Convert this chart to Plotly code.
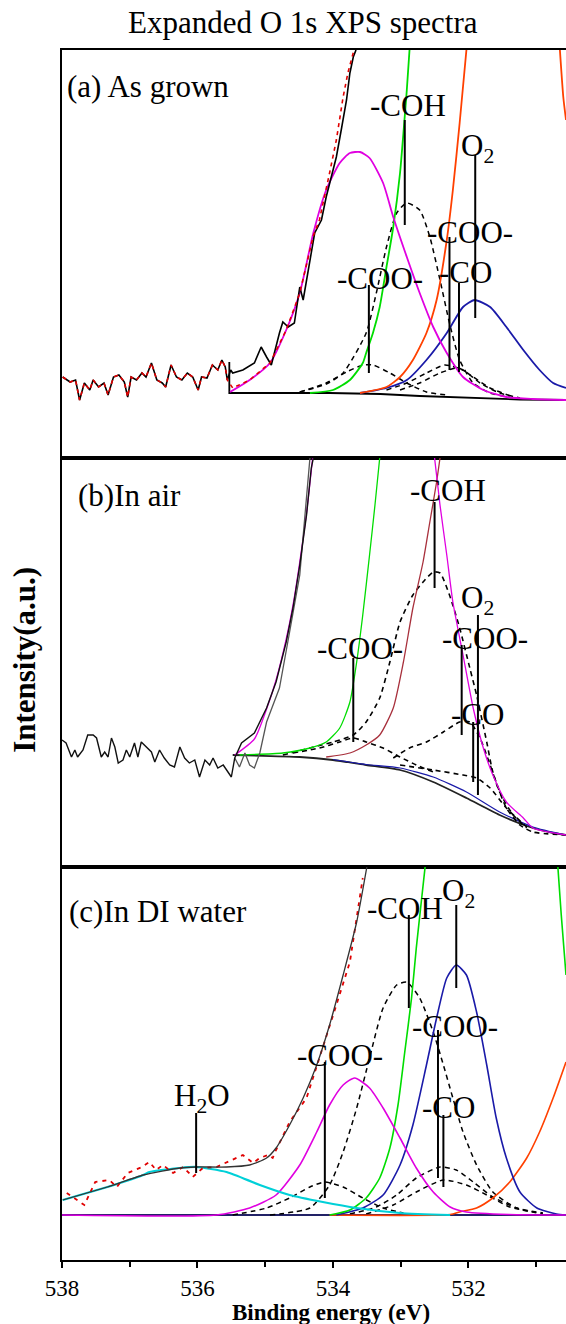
import plotly.graph_objects as go
from plotly.subplots import make_subplots

FONT = "Liberation Serif, Times New Roman, serif"

# ---------------- Panel (a) As grown ----------------
a_raw_ev = [537.99, 537.88, 537.80, 537.74, 537.67, 537.59, 537.54, 537.46, 537.38, 537.32,
            537.24, 537.16, 537.08, 537.03, 536.98, 536.90, 536.82, 536.76, 536.68, 536.60,
            536.52, 536.47, 536.39, 536.31, 536.23, 536.15, 536.07, 535.99, 535.94, 535.86,
            535.78, 535.70, 535.64, 535.59, 535.56, 535.51, 535.48, 535.33, 535.16, 535.06,
            534.98, 534.91, 534.79, 534.74, 534.66, 534.57, 534.49, 534.44, 534.27, 534.17,
            534.10, 533.95, 533.87, 533.80, 533.75, 533.70, 533.66]
a_raw_int = [81, 76, 78, 58, 75, 68, 78, 71, 75, 63,
             81, 83, 76, 61, 81, 78, 85, 81, 95, 78,
             75, 71, 93, 81, 78, 85, 81, 68, 81, 80,
             93, 88, 98, 91, 78, 88, 85, 88, 95, 111,
             101, 93, 125, 136, 131, 135, 171, 158, 225, 238,
             261, 301, 331, 358, 385, 401, 408]
a_fit_ev = [535.48, 535.23, 534.93, 534.69, 534.49, 534.29, 534.20, 534.05, 533.95, 533.85, 533.78, 533.69]
a_fit_int = [70, 78, 95, 128, 165, 222, 238, 285, 318, 361, 385, 408]
a_bg_ev = [535.53, 535.53, 534.05, 533.30, 532.72, 531.98, 531.24, 530.56]
a_bg_int = [96, 65, 65, 64, 62, 60, 58.5, 58]
a_mag_ev = [535.52, 535.23, 534.93, 534.69, 534.49, 534.29, 534.10, 533.90, 533.75, 533.60, 533.46,
            533.26, 533.11, 532.91, 532.72, 532.52, 532.32, 532.08, 531.78, 531.44, 531.05, 530.56]
a_mag_int = [66, 78, 95, 128, 165, 225, 268, 295, 305, 306, 300,
             275, 241, 201, 165, 131, 105, 81, 68, 61, 59, 58]
a_grn_ev = [534.34, 534.00, 533.75, 533.56, 533.51, 533.41, 533.31, 533.21, 533.11, 533.01, 532.96, 532.91, 532.87]
a_grn_int = [65, 68, 78, 95, 105, 125, 151, 191, 231, 285, 325, 368, 408]
a_org_ev = [533.60, 533.21, 533.01, 532.82, 532.62, 532.47, 532.32, 532.23, 532.13, 532.03, None, 530.65, 530.60, 530.56]
a_org_int = [65, 71, 81, 98, 125, 158, 218, 268, 335, 408, None, 408, 361, 338]
a_blu_ev = [533.60, 533.21, 532.91, 532.62, 532.32, 532.08, 531.91, 531.68, 531.44, 531.19, 530.95, 530.75, 530.56]
a_blu_int = [65, 70, 78, 98, 125, 151, 158, 151, 131, 108, 88, 75, 70]
a_coh_ev = [534.49, 534.10, 533.85, 533.51, 533.36, 533.21, 533.06, 532.91, 532.72, 532.57, 532.42,
            532.28, 532.13, 531.93, 531.68, 531.34]
a_coh_int = [66, 74, 85, 125, 165, 211, 245, 255, 248, 221, 178, 135, 98, 75, 65, 60]
a_coo1_ev = [534.49, 534.10, 533.80, 533.56, 533.41, 533.16, 532.91, 532.62, 532.32]
a_coo1_int = [66, 75, 86, 93, 93, 85, 75, 66, 63]
a_coo2_ev = [533.21, 532.91, 532.62, 532.35, 532.08, 531.83, 531.54, 531.24]
a_coo2_int = [68, 75, 85, 93, 88, 75, 65, 60]
a_co_ev = [533.01, 532.72, 532.42, 532.15, 531.93, 531.68, 531.34]
a_co_int = [68, 75, 85, 90, 81, 70, 61]
a_lab_text = ["-COH", "O<sub>2</sub>", "-COO-", "-CO", "-COO-"]
a_lab_ev = [532.89, 531.86, 531.97, 532.04, 533.31]
a_lab_int = [353, 310, 226, 186, 180]
a_line_ev = [532.94, 531.90, 532.28, 532.14, 533.47]
a_line_top = [338, 303, 221, 175, 173]
a_line_bot = [233, 140, 88, 86, 85]

# ---------------- Panel (b) In air ----------------
b_raw_ev = [538.00, 537.94, 537.86, 537.81, 537.77, 537.69, 537.62, 537.54, 537.49, 537.42,
            537.37, 537.32, 537.27, 537.22, 537.17, 537.10, 537.05, 537.00, 536.93, 536.88,
            536.83, 536.76, 536.68, 536.63, 536.56, 536.49, 536.41, 536.34, 536.26, 536.19,
            536.12, 536.04, 535.97, 535.89, 535.82, 535.77, 535.70, 535.62, 535.55, 535.50,
            535.45, 535.35, 535.16, 534.98, 534.84, 534.69, 534.59, 534.49, 534.39, 534.32, 534.29]
b_raw_int = [127, 124, 110, 117, 110, 117, 132, 132, 129, 110,
             115, 110, 129, 120, 104, 107, 117, 110, 124, 110,
             125, 120, 115, 105, 117, 109, 102, 100, 120, 109,
             104, 107, 90, 107, 102, 109, 99, 102, 95, 90,
             109, 124, 134, 159, 185, 225, 259, 302, 352, 399, 409]
b_gry_ev = [535.45, 535.38, 535.30, 535.23, 535.16, 535.08, 534.98, 534.79, 534.64, 534.49, 534.34]
b_gry_int = [109, 100, 114, 102, 99, 114, 145, 179, 235, 292, 409]
b_mag_ev = [535.45, 535.16, 534.98, 534.84, 534.69, 534.59, 534.49, 534.39, 534.30, None,
            532.50, 532.42, 532.32, 532.23, 532.08, 531.93, 531.78, 531.64, 531.44, 531.19, 531.05, 530.56]
b_mag_int = [112, 128, 158, 187, 228, 262, 305, 354, 409, None,
             409, 362, 312, 265, 212, 159, 119, 92, 65, 49, 39, 32]
b_bg_ev = [535.48, 534.49, 534.00, 533.51, 533.01, 532.52, 532.03, 531.54, 531.05, 530.75, 530.56]
b_bg_int = [112, 110, 107, 102, 97, 85, 69, 52, 39, 34, 32]
b_blu_ev = [534.00, 533.51, 533.01, 532.52, 532.03, 531.54, 531.05, 530.56]
b_blu_int = [107.5, 102.5, 99, 90, 75, 55, 40, 32]
b_grn_ev = [535.38, 534.74, 534.34, 534.10, 533.90, 533.75, 533.65, 533.56, 533.46, 533.38, 533.31]
b_grn_int = [112, 114, 119, 125, 139, 165, 205, 252, 312, 362, 409]
b_red_ev = [534.10, 533.75, 533.51, 533.31, 533.11, 532.96, 532.82, 532.67, 532.57, 532.47, 532.42]
b_red_int = [110, 114, 122, 132, 159, 205, 259, 305, 345, 385, 409]
b_coh_ev = [534.74, 534.34, 534.00, 533.70, 533.51, 533.31, 533.16, 533.01, 532.82, 532.67, 532.52,
            532.42, 532.28, 532.13, 531.98, 531.88, 531.73, 531.64, 531.44, 531.24, 531.05, 530.56]
b_coh_int = [112, 119, 125, 132, 145, 169, 205, 245, 272, 285, 295,
             294, 272, 239, 199, 172, 125, 95, 59, 42, 35, 32]
b_coo1_ev = [534.59, 534.20, 533.90, 533.70, 533.51, 533.26, 533.01, 532.77, 532.52]
b_coo1_int = [114, 119, 125, 129, 125, 119, 110, 102, 95]
b_co_ev = [533.11, 532.87, 532.62, 532.37, 532.13, 531.98, 531.83, 531.68, 531.54, 531.34, 531.14]
b_co_int = [109, 119, 125, 135, 145, 145, 129, 102, 75, 52, 39]
b_coo2_ev = [533.01, 532.52, 532.08, 531.88, 531.68, 531.44, 531.14]
b_coo2_int = [102, 97, 92, 89, 79, 59, 40]
b_lab_text = ["-COH", "O<sub>2</sub>", "-COO-", "-CO", "-COO-"]
b_lab_ev = [532.30, 531.87, 531.76, 531.86, 533.60]
b_lab_int = [377, 267, 229, 153, 219]
b_line_ev = [532.50, 531.86, 532.10, 531.93, 533.70]
b_line_top = [365, 252, 222, 145, 209]
b_line_bot = [279, 72, 132, 85, 125]

# ---------------- Panel (c) In DI water ----------------
c_cyan_ev = [537.99, 537.33, 536.80, 536.71, 536.26, 536.02, 535.57, 535.08, 534.64, 534.15, 533.65, 533.01, 532.27]
c_cyan_int = [60, 73, 85, 88, 92, 93, 88, 75, 65, 58, 52, 47, 45]
c_env_ev = [537.99, 537.33, 536.80, 536.26, 536.02, 535.57, 535.23, 534.98, 534.84, 534.64, 534.44,
            534.24, 534.05, 533.85, 533.65, 533.50]
c_env_int = [60, 73, 85, 92, 93, 93, 95, 102, 112, 135, 162, 195, 235, 285, 338, 393]
c_dat_ev = [537.93, 537.78, 537.67, 537.51, 537.30, 537.19, 537.03, 536.82, 536.71, 536.61,
            536.51, 536.36, 536.21, 536.07, 535.92, 535.72, 535.48, 535.33, 535.18, 535.08,
            534.96, 534.89, 534.84, 534.64, 534.39, 534.10, 533.95, 533.75, 533.60, 533.56]
c_dat_int = [67, 60, 55, 78, 80, 73, 87, 93, 98, 90,
             95, 87, 93, 83, 92, 93, 100, 105, 97, 102,
             105, 102, 110, 138, 162, 222, 255, 298, 368, 382]
c_mag_ev = [538.00, 535.72, 535.23, 534.84, 534.49, 534.24, 534.05, 533.85, 533.68, 533.46, 533.26,
            533.01, 532.77, 532.52, 532.27, 532.03, 531.40, 530.56]
c_mag_int = [45, 45, 52, 65, 95, 128, 155, 175, 182, 172, 152, 122, 92, 68, 53, 48, 45.5, 45]
c_grn_ev = [534.05, 533.75, 533.51, 533.31, 533.16, 533.04, 532.94, 532.84, 532.77, 532.69, 532.64,
            None, 530.68, 530.63, 530.56]
c_grn_int = [45, 50, 62, 82, 112, 155, 208, 262, 312, 362, 393, None, 393, 345, 285]
c_blu_ev = [533.95, 533.56, 533.26, 533.01, 532.82, 532.62, 532.47, 532.32, 532.18, 532.03, 531.88,
            531.73, 531.59, 531.44, 531.24, 530.99, 530.70, 530.56]
c_blu_int = [45, 52, 65, 95, 135, 195, 242, 282, 295, 285, 248, 195, 142, 102, 68, 52, 46, 45]
c_org_ev = [534.05, 532.27, 532.13, 531.88, 531.64, 531.39, 531.14, 530.95, 530.75, 530.56]
c_org_int = [45, 45.5, 48, 52, 62, 78, 102, 128, 162, 198]
c_bg_ev = [538.00, 530.56]
c_bg_int = [45, 45]
c_coh_ev = [534.93, 534.34, 534.05, 533.85, 533.65, 533.46, 533.26, 533.06, 532.91, 532.72, 532.52,
            532.37, 532.23, 532.08, 531.88, 531.64, 531.29, 530.90]
c_coh_int = [45, 52, 75, 108, 152, 202, 252, 275, 278, 262, 228, 195, 162, 128, 95, 68, 52, 46]
c_coo1_ev = [535.48, 534.98, 534.64, 534.34, 534.12, 533.85, 533.56, 533.26, 532.96]
c_coo1_int = [45, 52, 62, 73, 78, 73, 62, 52, 47]
c_coo2_ev = [533.75, 533.36, 533.06, 532.77, 532.42, 532.18, 531.93, 531.64, 531.29, 530.90]
c_coo2_int = [46, 53, 65, 82, 93, 90, 78, 63, 52, 47]
c_co_ev = [533.51, 533.11, 532.77, 532.37, 532.03, 531.73, 531.39, 531.05]
c_co_int = [46, 55, 68, 80, 75, 65, 53, 48]
c_lab_text = ["H<sub>2</sub>O", "-COO-", "-COH", "O<sub>2</sub>", "-COO-", "-CO"]
c_lab_ev = [535.94, 533.90, 532.93, 532.14, 532.20, 532.29]
c_lab_int = [162, 205, 352, 367, 234, 153]
c_line_ev = [536.02, 534.12, 532.88, 532.18, 532.45, 532.37]
c_line_top = [147, 198, 345, 355, 230, 145]
c_line_bot = [87, 62, 252, 272, 82, 73]

panel_text = ["(a) As grown", "(b)In air", "(c)In DI water"]
panel_ev = [537.96, 537.80, 537.93]
panel_int = [372, 372, 349]
y_top = [408, 409, 393]

x_major = [538, 536, 534, 532]
x_minor = [537, 535, 533, 531]

# ---------------- figure ----------------
fig = make_subplots(rows=3, cols=1, shared_xaxes=True, vertical_spacing=0,
                    row_heights=[408, 409, 393])

MAG = "#e000e0"
GRN = "#00dd00"
ORG = "#ff4000"
BLU = "#1a1aa8"
CYA = "#00d0d8"
DRED = "#a8303c"
RED = "#e00000"
DASH = "5px,4px"


def line(x, y, color, width=1.6, dash=None, row=1, shape="spline"):
    fig.add_trace(go.Scatter(x=x, y=y, mode="lines", showlegend=False, hoverinfo="skip",
                             connectgaps=False,
                             line=dict(color=color, width=width, dash=dash, shape=shape,
                                       smoothing=0.6)),
                  row=row, col=1)


def markers(ev, top, bot, row):
    xs, ys = [], []
    for e, t, b in zip(ev, top, bot):
        xs += [e, e, None]
        ys += [t, b, None]
    fig.add_trace(go.Scatter(x=xs, y=ys, mode="lines", showlegend=False, hoverinfo="skip",
                             line=dict(color="black", width=2)), row=row, col=1)


# panel a
line(a_bg_ev, a_bg_int, "black", 1.8, row=1, shape="linear")
for ex, iy in [(a_coh_ev, a_coh_int), (a_coo1_ev, a_coo1_int), (a_coo2_ev, a_coo2_int), (a_co_ev, a_co_int)]:
    line(ex, iy, "black", 1.5, DASH, row=1)
line(a_blu_ev, a_blu_int, BLU, 1.8, row=1)
line(a_org_ev, a_org_int, ORG, 1.8, row=1)
line(a_grn_ev, a_grn_int, GRN, 1.8, row=1)
line(a_mag_ev, a_mag_int, MAG, 1.8, row=1)
line(a_raw_ev, a_raw_int, "black", 1.6, row=1, shape="linear")
line(a_raw_ev[:35] + a_fit_ev, a_raw_int[:35] + a_fit_int, RED, 1.6, "4px,4px", row=1, shape="linear")
markers(a_line_ev, a_line_top, a_line_bot, 1)

# panel b
line(b_bg_ev, b_bg_int, "#222222", 1.8, row=2)
line(b_blu_ev, b_blu_int, BLU, 1.2, row=2)
for ex, iy in [(b_coh_ev, b_coh_int), (b_coo1_ev, b_coo1_int), (b_co_ev, b_co_int), (b_coo2_ev, b_coo2_int)]:
    line(ex, iy, "black", 1.6, DASH, row=2)
line(b_grn_ev, b_grn_int, GRN, 1.3, row=2)
line(b_red_ev, b_red_int, DRED, 1.3, row=2)
line(b_mag_ev, b_mag_int, MAG, 1.3, row=2)
line(b_gry_ev, b_gry_int, "#555555", 1.3, row=2, shape="linear")
line(b_raw_ev, b_raw_int, "#111111", 1.4, row=2, shape="linear")
markers(b_line_ev, b_line_top, b_line_bot, 2)

# panel c
line(c_bg_ev, c_bg_int, "#222266", 1.8, row=3, shape="linear")
for ex, iy in [(c_coh_ev, c_coh_int), (c_coo1_ev, c_coo1_int), (c_coo2_ev, c_coo2_int), (c_co_ev, c_co_int)]:
    line(ex, iy, "black", 1.5, DASH, row=3)
line(c_org_ev, c_org_int, ORG, 1.6, row=3)
line(c_blu_ev, c_blu_int, BLU, 1.6, row=3)
line(c_grn_ev, c_grn_int, GRN, 1.6, row=3)
line(c_mag_ev, c_mag_int, MAG, 1.6, row=3)
line(c_cyan_ev, c_cyan_int, CYA, 2.2, row=3)
line(c_dat_ev, c_dat_int, RED, 1.8, "4px,5px", row=3, shape="linear")
line(c_env_ev, c_env_int, "#333333", 1.3, row=3)
markers(c_line_ev, c_line_top, c_line_bot, 3)

annotations = []
for r, (txts, evs, ints) in enumerate([(a_lab_text, a_lab_ev, a_lab_int),
                                       (b_lab_text, b_lab_ev, b_lab_int),
                                       (c_lab_text, c_lab_ev, c_lab_int)], start=1):
    sfx = "" if r == 1 else str(r)
    for t, e, i in zip(txts, evs, ints):
        annotations.append(dict(text=t, x=e, y=i, xref="x" + sfx, yref="y" + sfx, showarrow=False,
                                xanchor="center", yanchor="middle",
                                font=dict(family=FONT, size=31, color="black")))
    annotations.append(dict(text=panel_text[r - 1], x=panel_ev[r - 1], y=panel_int[r - 1],
                            xref="x" + sfx, yref="y" + sfx, showarrow=False,
                            xanchor="left", yanchor="middle",
                            font=dict(family=FONT, size=31, color="black")))

annotations.append(dict(text="Expanded O 1s XPS spectra", x=0.478, y=1.0231, xref="paper", yref="paper",
                        showarrow=False, xanchor="center", yanchor="middle",
                        font=dict(family=FONT, size=31, color="black")))
annotations.append(dict(text="<b>Binding energy (eV)</b>", x=0.534, y=-0.0430, xref="paper", yref="paper",
                        showarrow=False, xanchor="center", yanchor="middle",
                        font=dict(family=FONT, size=23, color="black")))
annotations.append(dict(text="<b>Intensity(a.u.)</b>", x=-0.0734, y=0.496, xref="paper", yref="paper",
                        showarrow=False, xanchor="center", yanchor="middle", textangle=-90,
                        font=dict(family=FONT, size=31, color="black")))

for r in range(1, 4):
    fig.update_xaxes(range=[538, 530.56], showline=True, mirror=True, linecolor="black", linewidth=2,
                     showgrid=False, zeroline=False, row=r, col=1)
    fig.update_yaxes(range=[0, y_top[r - 1]], showline=True, mirror=False, linecolor="black",
                     linewidth=2, showgrid=False, zeroline=False, ticks="", showticklabels=False,
                     row=r, col=1)

fig.update_xaxes(ticks="", showticklabels=False, row=1, col=1)
fig.update_xaxes(ticks="", showticklabels=False, row=2, col=1)
fig.update_xaxes(ticks="outside", tickvals=x_major, ticktext=[str(v) for v in x_major],
                 ticklen=6, tickwidth=2, tickcolor="black", showticklabels=True,
                 tickfont=dict(family=FONT, size=23, color="black"),
                 minor=dict(ticks="outside", tickvals=x_minor, ticklen=5, tickwidth=2, tickcolor="black"),
                 row=3, col=1)

fig.update_layout(width=566, height=1324, margin=dict(l=62, r=0, t=50, b=64),
                  paper_bgcolor="white", plot_bgcolor="white", annotations=annotations,
                  font=dict(family=FONT, color="black"))

fig.write_html("out.html")
